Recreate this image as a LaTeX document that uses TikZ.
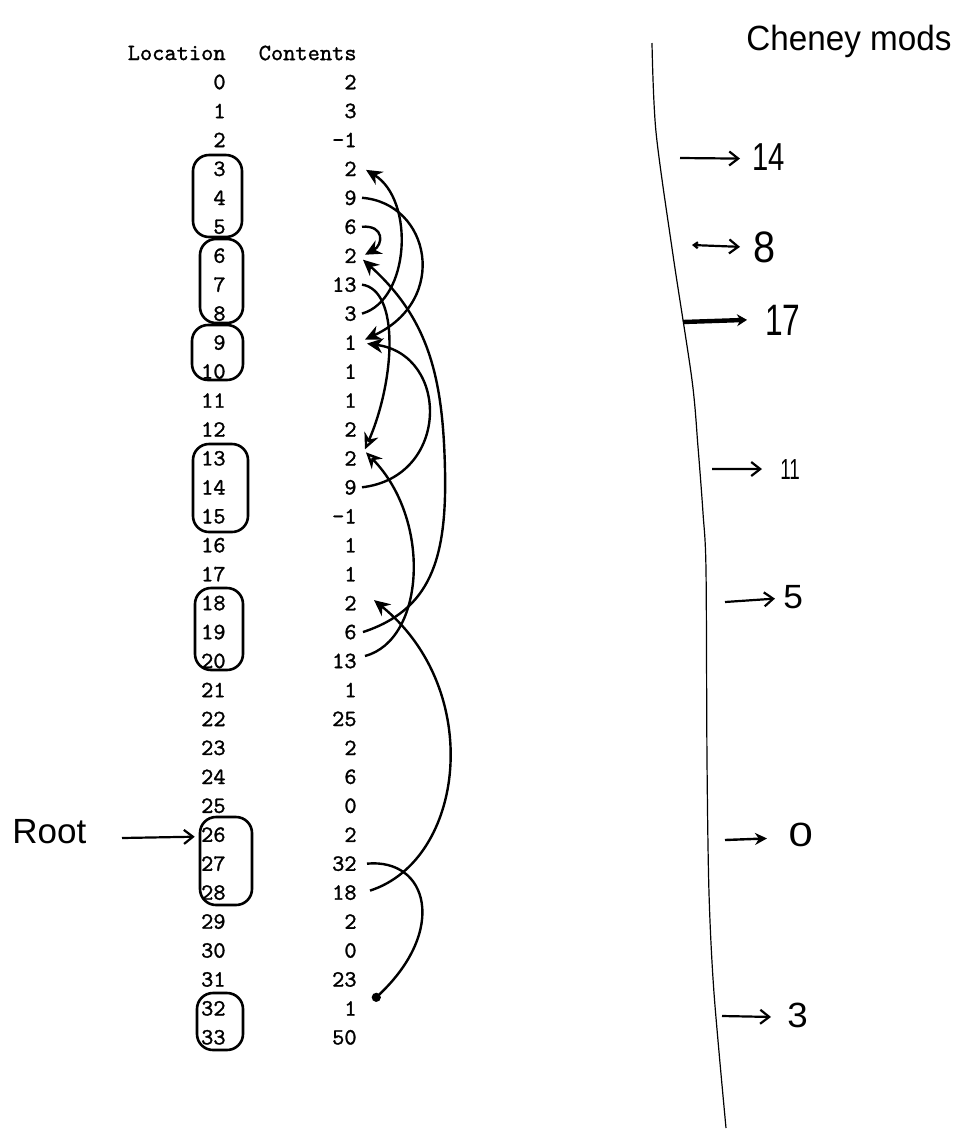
\documentclass[tikz,border=0pt]{standalone}
\usepackage{fontspec}
\setmonofont{lmmono10-regular.otf}[FakeBold=1.2]
\newfontfamily\handfont{Liberation Sans}
\usetikzlibrary{arrows.meta,calc}
\begin{document}
\begin{tikzpicture}[x=0.5pt,y=-0.5pt,
  tt/.style={font=\fontsize{11.65}{14}\selectfont\ttfamily, inner sep=0pt, anchor=east},
  ptr/.style={line width=1.2pt, -{Stealth[length=8pt,width=7.5pt]}},
  optr/.style={line width=1.2pt, -{Stealth[open,length=8pt,width=7.5pt]}},
  dotptr/.style={line width=1.2pt, -{Circle[length=4.5pt]}},
  loopbox/.style={line width=1.3pt, rounded corners=8pt},
  hand/.style={font=\handfont, inner sep=0pt, anchor=base west},
  harrow/.style={line width=1.1pt, -{Straight Barb[length=4.5pt,width=7pt]}},
  divider/.style={line width=0.6pt}]
\useasboundingbox (0,0) rectangle (956,1131);

% table
\node[tt] (hloc) at (226,53) {Location};
\node[tt] (hcon) at (357,53) {Contents};
\foreach \i/\v in {0/2,1/3,2/-1,3/2,4/9,5/6,6/2,7/13,8/3,9/1,10/1,11/1,12/2,13/2,14/9,15/-1,16/1,17/1,18/2,19/6,20/13,21/1,22/25,23/2,24/6,25/0,26/2,27/32,28/18,29/2,30/0,31/23,32/1,33/50}{
  \node[tt] (loc\i) at (226,{82+28.95*\i}) {\i};
  \node[tt] (con\i) at (357,{82+28.95*\i}) {\v};
}

% loops
\draw[loopbox] (193,155) rectangle (242,237);
\draw[loopbox] (200,239) rectangle (243,323);
\draw[loopbox] (192,325) rectangle (243,380);
\draw[loopbox] (193,444) rectangle (248,532);
\draw[loopbox] (195,588) rectangle (243,670);
\draw[loopbox] (200,817) rectangle (252,905);
\draw[loopbox] (197,993) rectangle (243,1050);

% pointers
\draw[ptr] ($(con8.east)+(5,0)$) .. controls (410,300) and (415,200) .. ($(con3.east)+(9,1)$);
\draw[ptr] ($(con4.east)+(5,0)$) .. controls (430,203) and (450,300) .. ($(con9.east)+(8,-3)$);
\draw[ptr] ($(con5.east)+(5,0)$) .. controls (385,225) and (383,245) .. ($(con6.east)+(8,-1)$);
\draw[optr] ($(con7.east)+(5,0)$) .. controls (400,290) and (395,380) .. ($(con13.east)+(8,-9)$);
\draw[ptr] ($(con14.east)+(5,0)$) .. controls (450,477) and (450,355) .. ($(con9.east)+(10,1)$);
\draw[ptr] ($(con19.east)+(6,0)$) .. controls (430,610) and (447,560) .. (445,470) .. controls (443,380) and (430,320) .. ($(con6.east)+(6,4)$);
\draw[optr] ($(con20.east)+(8,-5)$) .. controls (425,640) and (432,520) .. ($(con13.east)+(9,-6)$);
\draw[ptr] ($(con28.east)+(13,-2)$) .. controls (465,860) and (485,690) .. ($(con18.east)+(17,-3)$);
\draw[dotptr] ($(con27.east)+(10,0)$) .. controls (428,858) and (448,930) .. ($(con32.east)+(16,-8)$);

% root
\node[hand, font=\handfont\fontsize{17.5}{20}\selectfont] (root) at (12,843) {Root};
\coordinate (rootstart) at (122,838);
\draw[harrow] (rootstart) -- ($(loc26.west)+(-6,2)$);

% divider and Cheney mods
\node[hand, font=\handfont\fontsize{17.5}{20}\selectfont, xscale=0.95] (title) at (746,50) {Cheney mods};
\draw[divider] plot[smooth] coordinates {(652,43) (656,132) (673,255) (692,380) (698,447) (703,513) (706,570) (707,760) (709,893) (714,993) (726,1128)};

\node[hand, font=\handfont\fontsize{19.5}{22}\selectfont, xscale=0.75] (n14) at (752,170) {14};
\node[hand, font=\handfont\fontsize{22}{24}\selectfont, xscale=0.9] (n8) at (753,262) {8};
\node[hand, font=\handfont\fontsize{22}{24}\selectfont, xscale=0.72] (n17) at (765,335) {17};
\node[hand, font=\handfont\fontsize{14.5}{17}\selectfont, xscale=0.65] (n11) at (780,479) {11};
\node[hand, font=\handfont\fontsize{16.8}{19}\selectfont, xscale=1.05] (n5) at (783,608) {5};
\node[hand, font=\handfont\fontsize{16.8}{19}\selectfont, xscale=1.3] (n0) at (788,846) {0};
\node[hand, font=\handfont\fontsize{17.5}{20}\selectfont, xscale=1.05] (n3) at (787,1027) {3};

\coordinate (t14) at (680,158);
\coordinate (t8) at (692,245);
\coordinate (t17) at (683,322);
\coordinate (t11) at (712,469);
\coordinate (t5) at (725,602);
\coordinate (t0) at (725,840);
\coordinate (t3) at (722,1016);
\draw[harrow] (t14) -- ($(n14.west)+(-12,2)$);
\draw[line width=1.1pt, {Straight Barb[length=2pt,width=3pt]}-{Straight Barb[length=4.5pt,width=7pt]}] (t8) -- ($(n8.west)+(-13,0)$);
\draw[line width=2.2pt, -{Stealth[length=5pt,width=6pt]}] (t17) -- ($(n17.west)+(-18,0)$);
\draw[harrow] (t11) -- ($(n11.west)+(-18,0)$);
\draw[harrow] (t5) -- ($(n5.west)+(-8,2)$);
\draw[line width=1.2pt, -{Stealth[length=6pt,width=6pt]}] (t0) -- ($(n0.west)+(-21,4)$);
\draw[harrow] (t3) -- ($(n3.west)+(-16,2)$);
\end{tikzpicture}
\end{document}
